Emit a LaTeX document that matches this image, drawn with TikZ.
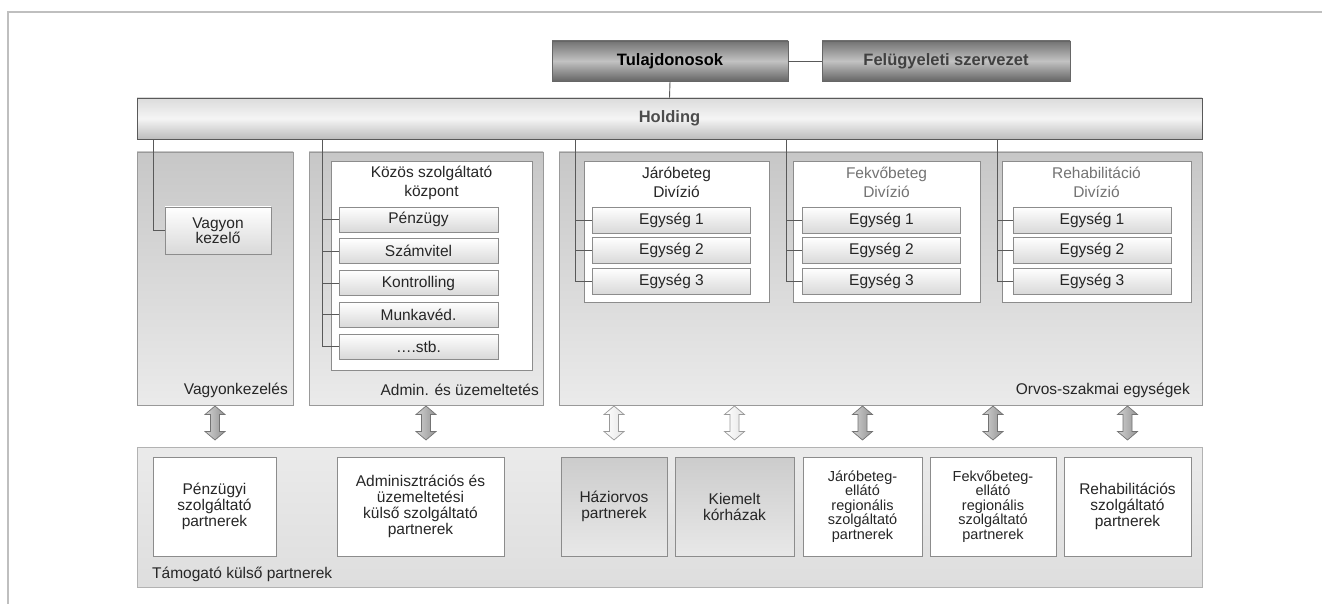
\documentclass[tikz,border=0pt]{standalone}
\usepackage{fontspec}
\setmainfont{Liberation Sans}
\begin{document}
\begin{tikzpicture}[x=1pt,y=-1pt,
  base/.style={rectangle, inner sep=0pt, align=center, text=black!85,
    font=\fontsize{15.5}{16}\selectfont},
  darkbox/.style={base, draw=black!60, line width=0.8pt,
    top color=black!55, bottom color=black!60, middle color=black!24,
    font=\fontsize{16.5}{18}\selectfont\bfseries},
  holdbox/.style={base, draw=black!65, line width=0.8pt,
    top color=black!14, bottom color=black!26, middle color=black!4,
    text=black!70, font=\fontsize{16.5}{18}\selectfont\bfseries},
  panel/.style={base, draw=black!40, line width=0.7pt, top color=black!22, bottom color=black!8},
  botpanel/.style={base, draw=black!30, line width=0.7pt, top color=black!8, bottom color=black!13},
  whitebox/.style={base, draw=black!45, line width=0.8pt, fill=white},
  subbox/.style={base, draw=black!45, line width=0.8pt, top color=white, bottom color=black!15},
  graybox/.style={base, draw=black!45, line width=0.8pt, top color=black!20, bottom color=black!9},
  lbl/.style={inner sep=0pt, text=black!85, font=\fontsize{15.5}{17}\selectfont},
  conn/.style={draw=black!65, line width=0.9pt},
  frameline/.style={draw=black!25, line width=1.6pt},
  darkarrow/.style={draw=black!55, line width=0.7pt, left color=black!18, right color=black!42},
  lightarrow/.style={draw=black!40, line width=0.7pt, left color=white, right color=black!10},
  darr/.pic={\path[darkarrow] (0,0) -- (10,8.5) -- (4.5,8.5) -- (4.5,25.5) -- (10,25.5) -- (0,34)
      -- (-10,25.5) -- (-4.5,25.5) -- (-4.5,8.5) -- (-10,8.5) -- cycle;},
  larr/.pic={\path[lightarrow] (0,0) -- (10,8.5) -- (4.5,8.5) -- (4.5,25.5) -- (10,25.5) -- (0,34)
      -- (-10,25.5) -- (-4.5,25.5) -- (-4.5,8.5) -- (-10,8.5) -- cycle;}
]
\useasboundingbox (0,0) rectangle (1322,604);
\fill[white] (0,0) rectangle (1322,604);
\draw[frameline] (8,606) -- (8,12) -- (1324,12);

% top level
\node[darkbox, text=black, minimum width=236pt, minimum height=40pt] (tul) at (670,61) {Tulajdonosok};
\node[darkbox, text=black!75, minimum width=248pt, minimum height=40pt] (fel) at (946,61) {Felügyeleti szervezet};
\node[holdbox, minimum width=1065pt, minimum height=41pt] (hold) at (669.5,118.5) {Holding};
\draw[conn] (tul.east) -- (fel.west);
\draw[conn] (tul.south) -- (hold.north);

% panels
\node[panel, minimum width=156pt, minimum height=253pt] (pvag) at (215,278.5) {};
\node[panel, minimum width=234pt, minimum height=253pt] (padm) at (426,278.5) {};
\node[panel, minimum width=643pt, minimum height=253pt] (porv) at (880.5,278.5) {};
\node[botpanel, minimum width=1065pt, minimum height=140pt] (pbot) at (669.5,517) {};

\node[lbl, anchor=east] (lvag) at (288,390) {Vagyonkezelés};
\node[lbl, anchor=east] (ladm) at (539,390) {Admin. és üzemeltetés};
\node[lbl, anchor=east] (lorv) at (1190,390) {Orvos-szakmai egységek};
\node[lbl, anchor=west] (lbot) at (152,574) {Támogató külső partnerek};

% Vagyonkezelés
\node[subbox, minimum width=106pt, minimum height=47pt, font=\fontsize{15.5}{15.5}\selectfont] (vk) at (218,230.5) {Vagyon\\kezelő};
\coordinate (a1) at (153,0);
\draw[conn] (hold.south -| a1) |- (vk.west);

% Közös szolgáltató központ
\node[whitebox, minimum width=201pt, minimum height=209pt] (kozos) at (431.5,265.5) {};
\node[lbl, align=center, font=\fontsize{15.5}{19.5}\selectfont] (kozt) at (431.5,183) {Közös szolgáltató\\központ};
\node[subbox, minimum width=159pt, minimum height=25pt] (s1) at (418.5,219.5) {Pénzügy};
\node[subbox, minimum width=159pt, minimum height=25pt] (s2) at (418.5,251.25) {Számvitel};
\node[subbox, minimum width=159pt, minimum height=25pt] (s3) at (418.5,283) {Kontrolling};
\node[subbox, minimum width=159pt, minimum height=25pt] (s4) at (418.5,314.75) {Munkavéd.};
\node[subbox, minimum width=159pt, minimum height=25pt] (s5) at (418.5,346.5) {\dots.stb.};
\coordinate (a2) at (322,0);
\draw[conn] (hold.south -| a2) -- (s5.west -| a2) -- (s5.west);
\foreach \s in {s1,s2,s3,s4} \draw[conn] (\s.west -| a2) -- (\s.west);

% Divisions
\node[whitebox, minimum width=185pt, minimum height=141pt] (dj) at (676.5,231.5) {};
\node[whitebox, minimum width=187pt, minimum height=141pt] (df) at (886.5,231.5) {};
\node[whitebox, minimum width=189pt, minimum height=141pt] (dr) at (1096.5,231.5) {};
\node[lbl, align=center, font=\fontsize{15.5}{19}\selectfont] (djt) at (676.5,182.5) {Járóbeteg\\Divízió};
\node[lbl, align=center, text=black!55, font=\fontsize{15.5}{19}\selectfont] (dft) at (886.5,182.5) {Fekvőbeteg\\Divízió};
\node[lbl, align=center, text=black!55, font=\fontsize{15.5}{19}\selectfont] (drt) at (1096.5,182.5) {Rehabilitáció\\Divízió};

\foreach \n/\cx/\lx in {j/671.5/575, f/881.5/786, r/1092/997}{
  \node[subbox, minimum width=158pt, minimum height=26pt] (\n1) at (\cx,220) {Egység 1};
  \node[subbox, minimum width=158pt, minimum height=26pt] (\n2) at (\cx,250.5) {Egység 2};
  \node[subbox, minimum width=158pt, minimum height=26pt] (\n3) at (\cx,281) {Egység 3};
  \coordinate (l\n) at (\lx,0);
  \draw[conn] (hold.south -| l\n) -- (\n3.west -| l\n) -- (\n3.west);
  \draw[conn] (\n1.west -| l\n) -- (\n1.west);
  \draw[conn] (\n2.west -| l\n) -- (\n2.west);
}

% bottom partners
\node[whitebox, minimum width=123pt, minimum height=99pt] (b1) at (214.5,506.5) {Pénzügyi\\szolgáltató\\partnerek};
\node[whitebox, minimum width=167pt, minimum height=99pt] (b2) at (420.5,506.5) {Adminisztrációs és\\üzemeltetési\\külső szolgáltató\\partnerek};
\node[graybox, minimum width=106pt, minimum height=99pt] (b3) at (614,506.5) {Háziorvos\\partnerek};
\node[graybox, minimum width=119pt, minimum height=99pt] (b4) at (734.5,506.5) {Kiemelt\\kórházak};
\node[whitebox, minimum width=119pt, minimum height=99pt, font=\fontsize{14.5}{14.5}\selectfont] (b5) at (862.5,506.5) {Járóbeteg-\\ellátó\\regionális\\szolgáltató\\partnerek};
\node[whitebox, minimum width=126pt, minimum height=99pt, font=\fontsize{14.5}{14.5}\selectfont] (b6) at (993,506.5) {Fekvőbeteg-\\ellátó\\regionális\\szolgáltató\\partnerek};
\node[whitebox, minimum width=127pt, minimum height=99pt] (b7) at (1127.5,506.5) {Rehabilitációs\\szolgáltató\\partnerek};

% double arrows
\pic at (215,406) {darr};
\pic at (426,406) {darr};
\pic at (614,406) {larr};
\pic at (734.5,406) {larr};
\pic at (862.5,406) {darr};
\pic at (993,406) {darr};
\pic at (1127.5,406) {darr};
\end{tikzpicture}
\end{document}
